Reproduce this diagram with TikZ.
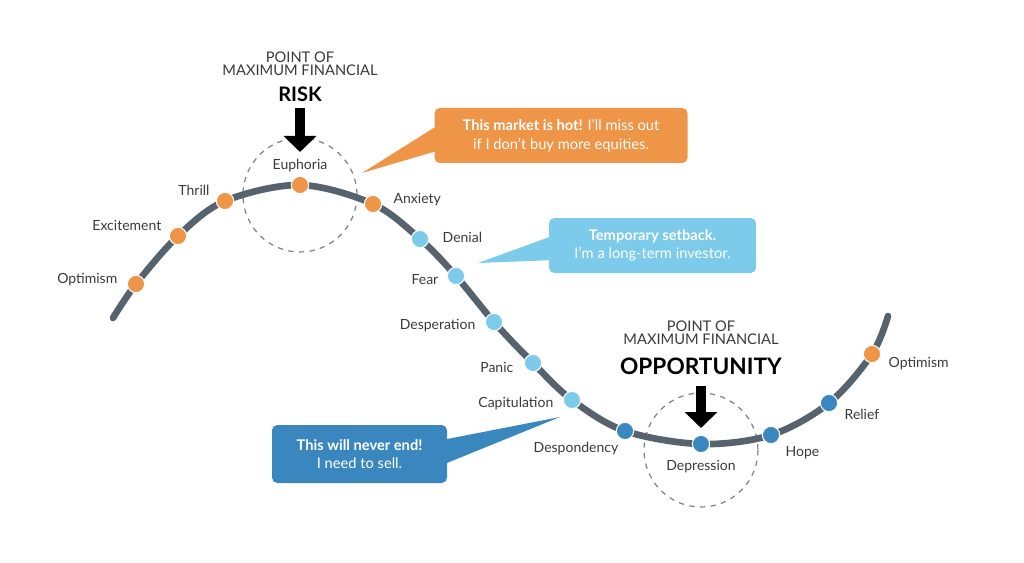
\documentclass[tikz,border=0pt]{standalone}
\usepackage{fontspec}
\setmainfont{Lato}
\usetikzlibrary{arrows.meta}
\definecolor{curve}{HTML}{56626E}
\definecolor{org}{HTML}{EE9548}
\definecolor{lbl}{HTML}{7CCBEA}
\definecolor{dbl}{HTML}{3A87BF}
\definecolor{txt}{HTML}{3A3A3A}
\begin{document}
\begin{tikzpicture}[x=0.75pt,y=-0.75pt,
 dot/.style={circle,draw=white,line width=0.8pt,minimum size=13pt,inner sep=0pt},
 lab/.style={font=\fontsize{10.5}{12}\selectfont,text=txt},
 box/.style={rounded corners=4pt,text=white,align=center,font=\fontsize{11}{14}\selectfont,inner sep=0pt},
 head/.style={font=\fontsize{11}{12}\selectfont,text=txt},
 circ/.style={draw=curve!80,dashed,line width=0.9pt,dash pattern=on 4pt off 4pt},
 bigarrow/.style={-{Triangle[length=12pt,width=24pt]},line width=8pt,black}]
\useasboundingbox (0,0) rectangle (1024,563);
% dashed circles
\draw[circ] (300,195) circle (57);
\draw[circ] (701,450) circle (57);
% curve
\draw[curve,line width=5pt,line cap=round] plot[smooth,tension=0.55] coordinates {(113,318) (136,284) (178,236) (225,201) (300,185) (373,204) (420,239) (456,276) (494,322) (533,363) (572,400) (625,431) (701,444) (771,435) (829,403) (872,354) (888,316)};
% dots
\node[dot,fill=org] (d1) at (136,284) {};
\node[dot,fill=org] (d2) at (178,236) {};
\node[dot,fill=org] (d3) at (225,201) {};
\node[dot,fill=org] (d4) at (300,185) {};
\node[dot,fill=org] (d5) at (373,204) {};
\node[dot,fill=lbl] (d6) at (420,239) {};
\node[dot,fill=lbl] (d7) at (456,276) {};
\node[dot,fill=lbl] (d8) at (494,322) {};
\node[dot,fill=lbl] (d9) at (533,363) {};
\node[dot,fill=lbl] (d10) at (572,400) {};
\node[dot,fill=dbl] (d11) at (625,431) {};
\node[dot,fill=dbl] (d12) at (701,444) {};
\node[dot,fill=dbl] (d13) at (771,435) {};
\node[dot,fill=dbl] (d14) at (829,403) {};
\node[dot,fill=org] (d15) at (872,354) {};
% labels
\node[lab,anchor=east] at (122,280) {Optimism};
\node[lab,anchor=east] at (166,225) {Excitement};
\node[lab] at (194,190) {Thrill};
\node[lab] at (300,166) {Euphoria};
\node[lab,anchor=west] at (389,200) {Anxiety};
\node[lab,anchor=west] at (438,237) {Denial};
\node[lab,anchor=east] at (443,280) {Fear};
\node[lab,anchor=east] at (480,326) {Desperation};
\node[lab,anchor=east] at (518,367) {Panic};
\node[lab,anchor=east] at (558,404) {Capitulation};
\node[lab] at (576,449) {Despondency};
\node[lab] at (701,467) {Depression};
\node[lab,anchor=west] at (781,453) {Hope};
\node[lab,anchor=west] at (840,414) {Relief};
\node[lab,anchor=west] at (884,364) {Optimism};
% headings
\node[head,align=center] (h1) at (300,64) {POINT OF\\[-2pt]MAXIMUM FINANCIAL};
\node[font=\fontsize{15}{16}\selectfont\bfseries] (r1) at (300,94) {RISK};
\node[head,align=center] (h2) at (701,333) {POINT OF\\[-2pt]MAXIMUM FINANCIAL};
\node[font=\fontsize{17}{18}\selectfont\bfseries] (r2) at (701,366) {OPPORTUNITY};
\coordinate (a1s) at (300,108); \coordinate (a1e) at (300,152);
\coordinate (a2s) at (701,386); \coordinate (a2e) at (701,428);
\draw[bigarrow] (a1s) -- (a1e);
\draw[bigarrow] (a2s) -- (a2e);
% callouts
\coordinate (t1) at (362,173);
\coordinate (t2) at (478,263);
\coordinate (t3) at (560,417);
\fill[org] (t1) -- (440,124) -- (440,150) -- cycle;
\node[box,fill=org,minimum width=253*0.75pt,minimum height=55*0.75pt] (c1) at (561,135.5) {\textbf{This market is hot!} I'll miss out\\if I don't buy more equities.};
\fill[lbl] (t2) -- (555,235) -- (555,260) -- cycle;
\node[box,fill=lbl,minimum width=207*0.75pt,minimum height=55*0.75pt] (c2) at (652.5,245.5) {\textbf{Temporary setback.}\\I'm a long-term investor.};
\fill[dbl] (t3) -- (442,440) -- (442,465) -- cycle;
\node[box,fill=dbl,minimum width=175*0.75pt,minimum height=58*0.75pt] (c3) at (359.5,454) {\textbf{This will never end!}\\I need to sell.};
\end{tikzpicture}
\end{document}
